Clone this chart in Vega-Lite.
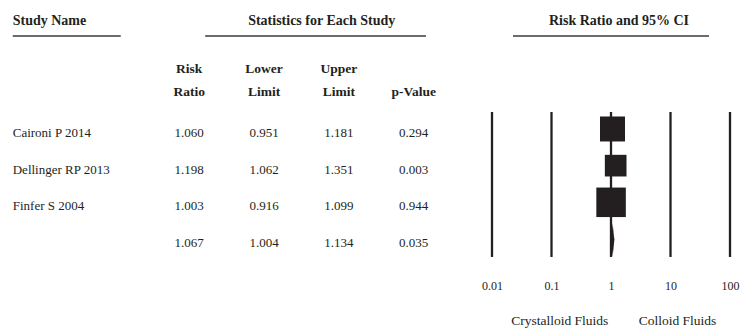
{
  "$schema": "https://vega.github.io/schema/vega-lite/v6.json",
  "padding": 0,
  "spacing": 0,
  "bounds": "flush",
  "background": "white",
  "config": {"view": {"stroke": null}, "font": "Liberation Serif"},
  "datasets": {
    "studies": [
      {"study": "Caironi P 2014", "row": "r1", "kind": "study", "rr": 1.060, "lower": 0.951, "upper": 1.181, "p": 0.294, "weight": 31.8},
      {"study": "Dellinger RP 2013", "row": "r2", "kind": "study", "rr": 1.198, "lower": 1.062, "upper": 1.351, "p": 0.003, "weight": 23.9},
      {"study": "Finfer S 2004", "row": "r3", "kind": "study", "rr": 1.003, "lower": 0.916, "upper": 1.099, "p": 0.944, "weight": 44.3},
      {"study": "", "row": "r4", "kind": "summary", "rr": 1.067, "lower": 1.004, "upper": 1.134, "p": 0.035}
    ],
    "colheads": [
      {"col": "rr", "l1": "Risk", "l2": "Ratio"},
      {"col": "lower", "l1": "Lower", "l2": "Limit"},
      {"col": "upper", "l1": "Upper", "l2": "Limit"},
      {"col": "p", "l1": "", "l2": "p-Value"}
    ],
    "refs": [{"v": 0.01}, {"v": 0.1}, {"v": 1}, {"v": 10}, {"v": 100}]
  },
  "hconcat": [
    {
      "width": 481,
      "height": 329,
      "layer": [
        {
          "data": {"name": "studies"},
          "transform": [{"fold": ["rr", "lower", "upper", "p"], "as": ["key", "value"]}],
          "mark": {"type": "text", "fontSize": 13, "dy": 2, "color": "#231f20"},
          "encoding": {
            "x": {"field": "key", "type": "nominal", "axis": null,
                  "scale": {"type": "point", "domain": ["name", "gap", "rr", "lower", "upper", "p"], "padding": 0.714, "align": 0.37, "round": false}},
            "y": {"field": "row", "type": "nominal", "axis": null,
                  "scale": {"type": "point", "domain": ["head", "gap", "sub", "r1", "r2", "r3", "r4", "ticks", "groups"], "padding": 0.487, "align": 0.588, "round": false}},
            "text": {"field": "value", "type": "quantitative", "format": ".3f"}
          }
        },
        {
          "data": {"name": "studies"},
          "mark": {"type": "text", "fontSize": 13, "align": "left", "dx": -26.8, "dy": 2, "color": "#231f20"},
          "encoding": {
            "x": {"datum": "name", "type": "nominal", "axis": null},
            "y": {"field": "row", "type": "nominal", "axis": null},
            "text": {"field": "study"}
          }
        },
        {
          "data": {"name": "colheads"},
          "mark": {"type": "text", "fontSize": 13.5, "fontWeight": "bold", "dy": -25.7, "color": "#231f20"},
          "encoding": {
            "x": {"field": "col", "type": "nominal", "axis": null},
            "y": {"datum": "sub", "type": "nominal", "axis": null},
            "text": {"field": "l1"}
          }
        },
        {
          "data": {"name": "colheads"},
          "mark": {"type": "text", "fontSize": 13.5, "fontWeight": "bold", "dy": -2.3, "color": "#231f20"},
          "encoding": {
            "x": {"field": "col", "type": "nominal", "axis": null},
            "y": {"datum": "sub", "type": "nominal", "axis": null},
            "text": {"field": "l2"}
          }
        },
        {
          "data": {"values": [{"t": "Study Name"}]},
          "mark": {"type": "text", "fontSize": 14, "fontWeight": "bold", "align": "left", "dx": -26.8, "color": "#231f20"},
          "encoding": {
            "x": {"datum": "name", "type": "nominal", "axis": null},
            "y": {"datum": "head", "type": "nominal", "axis": null},
            "text": {"field": "t"}
          }
        },
        {
          "data": {"values": [{"t": "Statistics for Each Study"}]},
          "mark": {"type": "text", "fontSize": 14, "fontWeight": "bold", "dx": 57.7, "color": "#231f20"},
          "encoding": {
            "x": {"datum": "lower", "type": "nominal", "axis": null},
            "y": {"datum": "head", "type": "nominal", "axis": null},
            "text": {"field": "t"}
          }
        },
        {
          "data": {"values": [{}]},
          "mark": {"type": "rule", "strokeWidth": 1.5, "color": "#3a3a3a", "xOffset": -26.8, "x2Offset": 81.2, "yOffset": 15},
          "encoding": {
            "x": {"datum": "name", "type": "nominal", "axis": null},
            "x2": {"datum": "name"},
            "y": {"datum": "head", "type": "nominal", "axis": null}
          }
        },
        {
          "data": {"values": [{}]},
          "mark": {"type": "rule", "strokeWidth": 1.5, "color": "#3a3a3a", "xOffset": 16, "x2Offset": 12.3, "yOffset": 15},
          "encoding": {
            "x": {"datum": "rr", "type": "nominal", "axis": null},
            "x2": {"datum": "p"},
            "y": {"datum": "head", "type": "nominal", "axis": null}
          }
        }
      ]
    },
    {
      "width": 260,
      "height": 329,
      "layer": [
        {
          "data": {"name": "refs"},
          "mark": {"type": "rule", "strokeWidth": 2.3, "color": "#231f20", "yOffset": -19, "y2Offset": 16},
          "encoding": {
            "x": {"field": "v", "type": "quantitative", "title": null,
                  "scale": {"type": "log", "domain": [0.01, 100], "padding": 11, "nice": false},
                  "axis": {"orient": "bottom", "offset": -44, "values": [0.01, 0.1, 1, 10, 100], "format": "~g",
                           "domain": false, "ticks": false, "grid": false, "labelPadding": 0, "labelBaseline": "middle",
                           "labelFont": "Liberation Serif", "labelFontSize": 12, "labelColor": "#231f20",
                           "labelFlush": false, "labelOverlap": false, "labelBound": false, "title": null}},
            "y": {"datum": "r1", "type": "nominal", "axis": null,
                  "scale": {"type": "point", "domain": ["head", "gap", "sub", "r1", "r2", "r3", "r4", "ticks", "groups"], "padding": 0.487, "align": 0.588, "round": false}},
            "y2": {"datum": "r4"}
          }
        },
        {
          "data": {"name": "studies"},
          "mark": {"type": "rule", "strokeWidth": 2, "color": "#231f20", "yOffset": -2},
          "encoding": {
            "x": {"field": "lower", "type": "quantitative", "title": null},
            "x2": {"field": "upper"},
            "y": {"field": "row", "type": "nominal", "axis": null}
          }
        },
        {
          "data": {"name": "studies"},
          "transform": [{"filter": "datum.kind == 'study'"}],
          "mark": {"type": "square", "filled": true, "opacity": 1, "color": "#231f20", "yOffset": -2},
          "encoding": {
            "x": {"field": "rr", "type": "quantitative", "title": null},
            "y": {"field": "row", "type": "nominal", "axis": null},
            "size": {"field": "weight", "type": "quantitative", "legend": null,
                     "scale": {"type": "linear", "domain": [0, 100], "range": [0, 1965]}}
          }
        },
        {
          "data": {"name": "studies"},
          "transform": [{"filter": "datum.kind == 'summary'"}],
          "mark": {"type": "point", "shape": "M-0.1,0L0,-1L0.1,0L0,1Z", "filled": true, "opacity": 1, "size": 1089, "color": "#231f20", "strokeWidth": 0, "yOffset": -1},
          "encoding": {
            "x": {"field": "rr", "type": "quantitative", "title": null},
            "y": {"field": "row", "type": "nominal", "axis": null}
          }
        },
        {
          "data": {"values": [{"t": "Risk Ratio and 95% CI"}]},
          "mark": {"type": "text", "fontSize": 14, "fontWeight": "bold", "dx": 8, "color": "#231f20"},
          "encoding": {
            "x": {"datum": 1, "type": "quantitative", "title": null},
            "y": {"datum": "head", "type": "nominal", "axis": null},
            "text": {"field": "t"}
          }
        },
        {
          "data": {"values": [{}]},
          "mark": {"type": "rule", "strokeWidth": 1.5, "color": "#3a3a3a", "xOffset": 21, "x2Offset": -21, "yOffset": 15},
          "encoding": {
            "x": {"datum": 0.01, "type": "quantitative", "title": null},
            "x2": {"datum": 100},
            "y": {"datum": "head", "type": "nominal", "axis": null}
          }
        },
        {
          "data": {"values": [{"t": "Crystalloid Fluids"}]},
          "mark": {"type": "text", "fontSize": 13.5, "dx": 8.3, "dy": 7, "color": "#231f20"},
          "encoding": {
            "x": {"datum": 0.1, "type": "quantitative", "title": null},
            "y": {"datum": "groups", "type": "nominal", "axis": null},
            "text": {"field": "t"}
          }
        },
        {
          "data": {"values": [{"t": "Colloid Fluids"}]},
          "mark": {"type": "text", "fontSize": 13.5, "dx": 7, "dy": 7, "color": "#231f20"},
          "encoding": {
            "x": {"datum": 10, "type": "quantitative", "title": null},
            "y": {"datum": "groups", "type": "nominal", "axis": null},
            "text": {"field": "t"}
          }
        }
      ]
    }
  ]
}
